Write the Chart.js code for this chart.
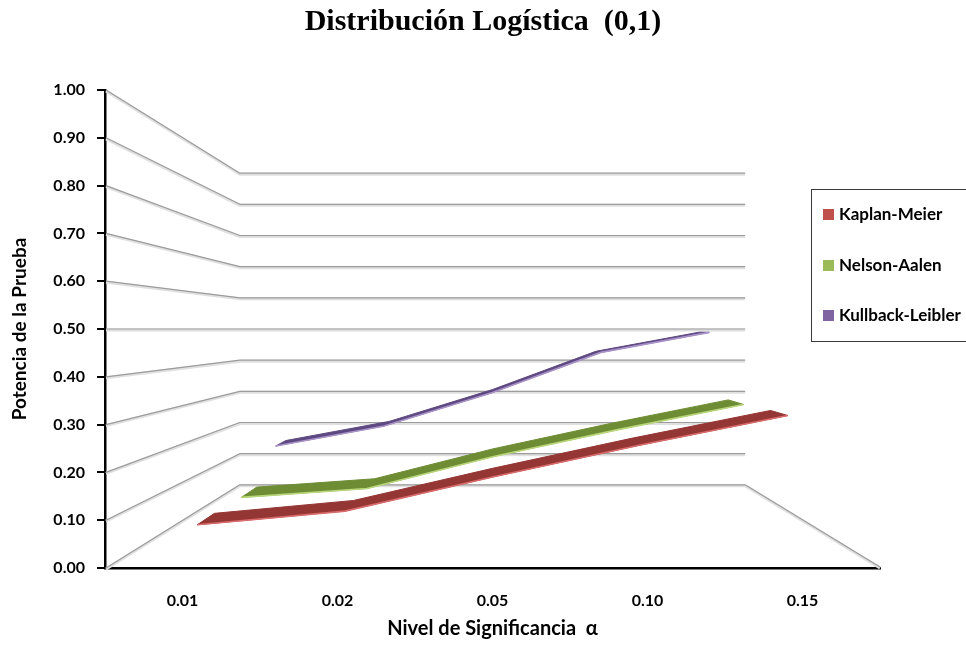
<!DOCTYPE html>
<html>
<head>
<meta charset="utf-8">
<script src="https://cdn.jsdelivr.net/npm/chart.js@4.4.1/dist/chart.umd.min.js"></script>
<style>
  html, body { margin: 0; padding: 0; background: #ffffff; }
  #wrap { width: 966px; height: 647px; position: relative; }
</style>
</head>
<body>
<div id="wrap"><canvas id="c"></canvas></div>
<script>
// Significance levels (x categories)
const categories = ['0.01', '0.02', '0.05', '0.10', '0.15'];

// Power of the test for each method
const kaplanMeier     = [0.07, 0.10, 0.175, 0.245, 0.31];
const nelsonAalen     = [0.065, 0.088, 0.17, 0.24, 0.305];
const kullbackLeibler = [0.15, 0.21, 0.31, 0.43, 0.49];

// Y axis tick values
const yTickValues = [0, 0.1, 0.2, 0.3, 0.4, 0.5, 0.6, 0.7, 0.8, 0.9, 1.0];

const seriesNames = ['Kaplan-Meier', 'Nelson-Aalen', 'Kullback-Leibler'];

// Look of the 3D ribbons: depth of front/back edge (inverse perspective scale)
const ribbonStyle = [
  { depth: [1.05, 1.115], top: '#943634', edge: '#d96b6b', key: '#c0504d' },
  { depth: [1.235, 1.315], top: '#6e8c34', edge: '#b9d77a', key: '#9bbb59' },
  { depth: [1.43, 1.50], top: '#5e4880', edge: '#a993c8', key: '#8064a2' }
];
const backWallScale = 0.652;
const LABEL_FONT = 'Lato, "Liberation Sans", sans-serif';

// perspective projection toward the centre of the plot area
function projector(area) {
  const vx = (area.left + area.right) / 2;
  const vy = (area.top + area.bottom) / 2;
  return (px, py, s) => [vx + (px - vx) * s, vy + (py - vy) * s];
}

const wallsPlugin = {
  id: 'walls3d',
  beforeDatasetsDraw(chart) {
    const { ctx, chartArea: a, scales: { y } } = chart;
    const proj = projector(a);
    ctx.save();
    ctx.lineJoin = 'round';
    const drawRail = (pts) => {
      ctx.lineWidth = 3;
      ctx.strokeStyle = '#e0e0e0';
      ctx.beginPath();
      pts.forEach((p, i) => i ? ctx.lineTo(p[0], p[1] + 1) : ctx.moveTo(p[0], p[1] + 1));
      ctx.stroke();
      ctx.lineWidth = 1.2;
      ctx.strokeStyle = '#9c9c9c';
      ctx.beginPath();
      pts.forEach((p, i) => i ? ctx.lineTo(p[0], p[1]) : ctx.moveTo(p[0], p[1]));
      ctx.stroke();
    };
    y.ticks.forEach(t => {
      const py = y.getPixelForValue(t.value);
      const b0 = proj(a.left, py, backWallScale);
      const b1 = proj(a.right, py, backWallScale);
      drawRail([[a.left + 1, py], b0, b1]);
    });
    // right edge of the floor
    const y0 = y.getPixelForValue(0);
    const fr = proj(a.right, y0, backWallScale);
    drawRail([fr, [a.right, y0 - 1]]);
    ctx.restore();
  },
  afterDatasetsDraw(chart) {
    const { ctx, chartArea: a } = chart;
    const proj = projector(a);
    ctx.save();
    [2, 1, 0].forEach(i => {
      const meta = chart.getDatasetMeta(i);
      const st = ribbonStyle[i];
      const front = meta.data.map(p => proj(p.x, p.y, 1 / st.depth[0]));
      const back = meta.data.map(p => proj(p.x, p.y, 1 / st.depth[1]));
      ctx.beginPath();
      front.forEach((p, k) => k ? ctx.lineTo(p[0], p[1]) : ctx.moveTo(p[0], p[1]));
      back.slice().reverse().forEach(p => ctx.lineTo(p[0], p[1]));
      ctx.closePath();
      ctx.fillStyle = st.top;
      ctx.fill();
      ctx.lineWidth = 1;
      ctx.strokeStyle = st.top;
      ctx.stroke();
      ctx.beginPath();
      front.forEach((p, k) => k ? ctx.lineTo(p[0], p[1]) : ctx.moveTo(p[0], p[1]));
      ctx.lineWidth = 1.6;
      ctx.strokeStyle = st.edge;
      ctx.stroke();
    });
    ctx.restore();
  },
  afterDraw(chart) {
    // legend box
    const { ctx } = chart;
    ctx.save();
    ctx.strokeStyle = '#3a3a3a';
    ctx.lineWidth = 1;
    ctx.strokeRect(811.5, 189.5, 170, 152);
    ctx.font = 'bold 17px ' + LABEL_FONT;
    ctx.textBaseline = 'middle';
    ctx.textAlign = 'left';
    const rows = [214, 265, 315];
    chart.data.datasets.forEach((ds, i) => {
      ctx.fillStyle = ribbonStyle[i].key;
      ctx.fillRect(823, rows[i] - 5, 11, 11);
      ctx.fillStyle = '#000';
      ctx.fillText(ds.label, 839, rows[i] + 1);
    });
    ctx.restore();
  }
};

new Chart(document.getElementById('c'), {
  type: 'line',
  data: {
    labels: categories,
    datasets: [
      { label: seriesNames[0], data: kaplanMeier, showLine: false, pointRadius: 0 },
      { label: seriesNames[1], data: nelsonAalen, showLine: false, pointRadius: 0 },
      { label: seriesNames[2], data: kullbackLeibler, showLine: false, pointRadius: 0 }
    ]
  },
  options: {
    responsive: true,
    maintainAspectRatio: false,
    animation: false,
    devicePixelRatio: 1,
    layout: { padding: 0 },
    events: [],
    plugins: {
      legend: { display: false },
      tooltip: { enabled: false },
      title: {
        display: true,
        text: 'Distribución Logística  (0,1)',
        color: '#000',
        font: { family: '"Liberation Serif", "DejaVu Serif", serif', size: 30, weight: 'bold' },
        padding: { top: 4, bottom: 50 }
      }
    },
    scales: {
      x: {
        type: 'category',
        offset: true,
        grid: { display: false, drawTicks: false },
        border: { display: true, color: '#000', width: 2.5 },
        ticks: { color: '#000', padding: 23, font: { family: LABEL_FONT, size: 16, weight: 'bold' } },
        title: {
          display: true,
          text: 'Nivel de Significancia  α',
          color: '#000',
          font: { family: LABEL_FONT, size: 20, weight: 'bold' },
          padding: { top: 0, bottom: 6 }
        },
        afterFit(scale) { scale.height = 79; }
      },
      y: {
        type: 'linear',
        min: 0,
        max: 1,
        afterBuildTicks(scale) { scale.ticks = yTickValues.map(v => ({ value: v })); },
        grid: { drawOnChartArea: false, color: '#000', lineWidth: 2, tickLength: 8 },
        border: { display: true, color: '#000', width: 2.5 },
        ticks: {
          color: '#000',
          padding: 12,
          font: { family: LABEL_FONT, size: 16, weight: 'bold' },
          callback: v => Number(v).toFixed(2)
        },
        title: {
          display: true,
          text: 'Potencia de la Prueba',
          color: '#000',
          font: { family: LABEL_FONT, size: 19, weight: 'bold' },
          padding: { top: 8, bottom: 0 }
        },
        afterFit(scale) { scale.width = 105; }
      },
      // empty right-hand axis reserving room for the legend box
      yRight: {
        type: 'linear',
        position: 'right',
        display: true,
        grid: { display: false, drawTicks: false },
        border: { display: false },
        ticks: { display: false },
        afterFit(scale) { scale.width = 86; }
      }
    }
  },
  plugins: [wallsPlugin]
});
</script>
</body>
</html>
